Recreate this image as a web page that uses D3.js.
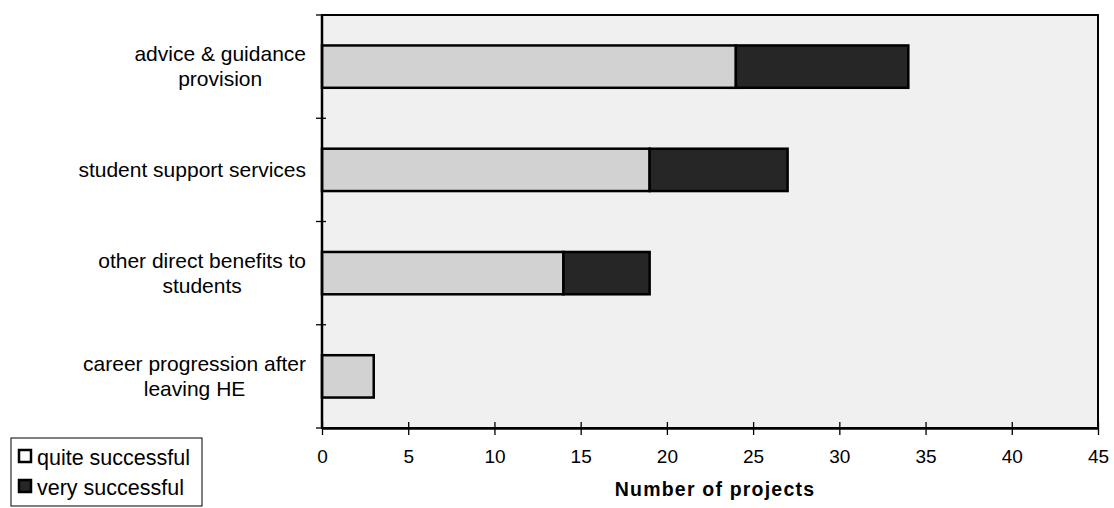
<!DOCTYPE html>
<html>
<head>
<meta charset="utf-8">
<script src="https://cdn.jsdelivr.net/npm/d3@7"></script>
<style>
  body { margin: 0; background: #fff; }
  svg { font-family: "Liberation Sans", Arial, sans-serif; }
</style>
</head>
<body>
<div id="chart"></div>
<script>
// data
const categories = [
    ["advice & guidance", "provision"],
    ["student support services"],
    ["other direct benefits to", "students"],
    ["career progression after", "leaving HE"]
];
const quiteSuccessful = [24, 19, 14, 3];
const verySuccessful = [10, 8, 5, 0];
const seriesNames = ["quite successful", "very successful"];
const xTicks = [0, 5, 10, 15, 20, 25, 30, 35, 40, 45];

const colors = { quite: "#d2d2d2", very: "#262626" };

const width = 1114, height = 508;
const margin = { top: 15, right: 16, bottom: 80, left: 322 };
const innerW = width - margin.left - margin.right;
const innerH = height - margin.top - margin.bottom;

const svg = d3.select("#chart").append("svg")
    .attr("width", width)
    .attr("height", height);

const g = svg.append("g")
    .attr("transform", `translate(${margin.left},${margin.top})`);

const x = d3.scaleLinear().domain([0, 45]).range([0, innerW]);
const y = d3.scaleBand().domain(d3.range(categories.length)).range([0, innerH]).padding(0);
const bw = y.bandwidth();
const barH = bw * 0.41;

// plot area
g.append("rect")
    .attr("width", innerW)
    .attr("height", innerH)
    .attr("fill", "#f0f0f0")
    .attr("stroke", "#000")
    .attr("stroke-width", 2);

// stacked bars
const rows = categories.map((c, i) => ({ i, q: quiteSuccessful[i], v: verySuccessful[i] }));

g.selectAll("rect.quite")
    .data(rows)
    .join("rect")
    .attr("class", "quite")
    .attr("x", x(0))
    .attr("y", d => y(d.i) + (bw - barH) / 2)
    .attr("width", d => x(d.q) - x(0))
    .attr("height", barH)
    .attr("fill", colors.quite)
    .attr("stroke", "#000")
    .attr("stroke-width", 2.5);

g.selectAll("rect.very")
    .data(rows.filter(d => d.v > 0))
    .join("rect")
    .attr("class", "very")
    .attr("x", d => x(d.q))
    .attr("y", d => y(d.i) + (bw - barH) / 2)
    .attr("width", d => x(d.q + d.v) - x(d.q))
    .attr("height", barH)
    .attr("fill", colors.very)
    .attr("stroke", "#000")
    .attr("stroke-width", 2.5);

// x axis
const xAxis = g.append("g")
    .attr("transform", `translate(0,${innerH})`)
    .call(d3.axisBottom(x).tickValues(xTicks).tickSize(6).tickSizeOuter(0));
xAxis.select(".domain").attr("stroke-width", 2.5);
xAxis.selectAll(".tick line").attr("y1", -6).attr("y2", 7).attr("stroke-width", 1.3);
xAxis.selectAll(".tick text")
    .attr("y", 22)
    .attr("dy", "0.71em")
    .attr("font-size", 19)
    .attr("fill", "#000");

// y axis: ticks between categories
const yAxis = g.append("g");
yAxis.append("line")
    .attr("x1", 0).attr("x2", 0)
    .attr("y1", 0).attr("y2", innerH)
    .attr("stroke", "#000").attr("stroke-width", 2.5);
yAxis.selectAll("line.tick")
    .data(d3.range(categories.length + 1))
    .join("line")
    .attr("class", "tick")
    .attr("x1", -6).attr("x2", 4)
    .attr("y1", d => d * bw).attr("y2", d => d * bw)
    .attr("stroke", "#000").attr("stroke-width", 1.3);

// category labels, each block centred and right-aligned against the axis
const lineH = 25;
g.selectAll("text.cat")
    .data(categories)
    .join("text")
    .attr("class", "cat")
    .attr("text-anchor", "middle")
    .attr("font-size", 21)
    .attr("fill", "#000")
    .each(function(lines, i) {
        const cy = y(i) + bw / 2;
        const start = cy - (lines.length - 1) * lineH / 2 + 7;
        const t = d3.select(this);
        const spans = t.selectAll("tspan")
            .data(lines)
            .join("tspan")
            .attr("y", (d, j) => start + j * lineH)
            .text(d => d);
        let maxW = 0;
        spans.each(function() { maxW = Math.max(maxW, this.getComputedTextLength()); });
        spans.attr("x", -16 - maxW / 2);
    });

// x axis title
svg.append("text")
    .attr("x", 715)
    .attr("y", 496)
    .attr("text-anchor", "middle")
    .attr("font-size", 19.5)
    .attr("font-weight", "bold")
    .attr("letter-spacing", 1.2)
    .attr("fill", "#000")
    .text("Number of projects");

// legend
const legend = svg.append("g").attr("transform", "translate(11,438)");
legend.append("rect")
    .attr("width", 191).attr("height", 68)
    .attr("fill", "#fff").attr("stroke", "#000").attr("stroke-width", 1);
const legendColors = [colors.quite, colors.very];
seriesNames.forEach((name, i) => {
    legend.append("rect")
        .attr("x", 8).attr("y", 12 + i * 30)
        .attr("width", 12).attr("height", 12)
        .attr("fill", i === 0 ? "#fff" : legendColors[i])
        .attr("stroke", "#000").attr("stroke-width", 2.5);
    legend.append("text")
        .attr("x", 26).attr("y", 27 + i * 30)
        .attr("font-size", 21.5)
        .attr("fill", "#000")
        .text(name);
});
</script>
</body>
</html>
